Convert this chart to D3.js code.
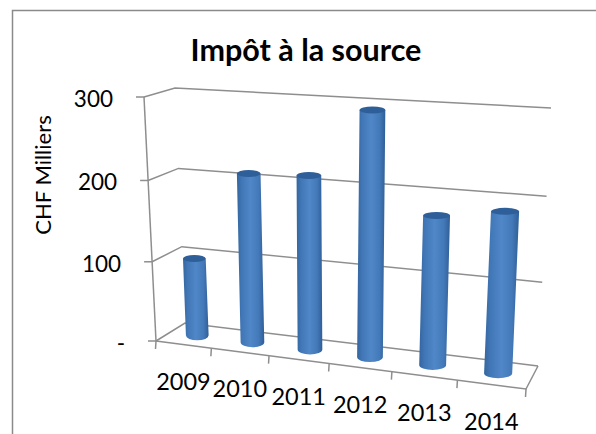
<!DOCTYPE html>
<html>
<head>
<meta charset="utf-8">
<script src="https://cdnjs.cloudflare.com/ajax/libs/d3/7.8.5/d3.min.js"></script>
<style>
  html, body { margin: 0; padding: 0; background: #fff; }
  text { font-family: Lato, "Open Sans", sans-serif; fill: #000; }
</style>
</head>
<body>
<div id="chart"></div>
<script>
const years = ['2009', '2010', '2011', '2012', '2013', '2014'];
const impot = [98, 209, 212, 293, 177, 188];
const valueTicks = [0, 100, 200, 300];
const valueLabels = ['-', '100', '200', '300'];

const width = 596, height = 434;

const svg = d3.select('#chart').append('svg')
    .attr('width', width)
    .attr('height', height);

// box corners in pixels, f = front, b = back, l = left, r = right, 0 = floor, 1 = top
const fl0 = [156, 341], fl1 = [144, 97];
const bl0 = [185, 323], bl1 = [175, 88];
const br0 = [538, 366], br1 = [551, 108];
const fr0 = [526, 389], fr1 = [540, 118];

const x = d3.scaleBand().domain(years).range([0, 1]);
const y = d3.scaleLinear().domain([0, 300]).range([0, 1]);

// foreshortening along the category and value directions
const warp = (t, w) => t / (t + w * (1 - t));
const lerp = (a, b, t) => [a[0] + (b[0] - a[0]) * t, a[1] + (b[1] - a[1]) * t];

// u along the categories, d into the depth (0 front, 1 back), value on the vertical
function project(u, d, value) {
    const uu = warp(u, 1.137);
    const vv = warp(y(value), 1.04);
    const front = lerp(lerp(fl0, fr0, uu), lerp(fl1, fr1, uu), vv);
    const back = lerp(lerp(bl0, br0, uu), lerp(bl1, br1, uu), vv);
    return lerp(front, back, d);
}

const line = d3.line();
const gridColor = '#8e8e8e';

// chart frame, open at the right and bottom like the clipped original
svg.append('path')
    .attr('d', line([[12.5, height], [12.5, 10.5], [width, 10.5]]))
    .attr('fill', 'none')
    .attr('stroke', '#8a8a8a')
    .attr('stroke-width', 1.5);

// gridlines on the side and back walls
svg.selectAll('.grid')
    .data(valueTicks)
    .enter()
    .append('path')
    .attr('class', 'grid')
    .attr('d', v => line([project(0, 0, v), project(0, 1, v), project(1, 1, v)]))
    .attr('fill', 'none')
    .attr('stroke', gridColor)
    .attr('stroke-width', 1.5);

// floor edges
svg.append('path')
    .attr('d', line([project(1, 1, 0), project(1, 0, 0), project(0, 0, 0)]))
    .attr('fill', 'none')
    .attr('stroke', gridColor)
    .attr('stroke-width', 1.5);

// value axis
svg.append('path')
    .attr('d', line([project(0, 0, 0), project(0, 0, 300)]))
    .attr('fill', 'none')
    .attr('stroke', gridColor)
    .attr('stroke-width', 1.5);

svg.selectAll('.ytick')
    .data(valueTicks)
    .enter()
    .append('path')
    .attr('class', 'ytick')
    .attr('d', v => {
        const p = project(0, 0, v);
        return line([p, [p[0] - 8, p[1]]]);
    })
    .attr('stroke', gridColor)
    .attr('stroke-width', 1.5);

svg.selectAll('.ylabel')
    .data(valueTicks)
    .enter()
    .append('text')
    .attr('class', 'ylabel')
    .attr('x', v => project(0, 0, v)[0] - 31)
    .attr('y', v => project(0, 0, v)[1] + 2)
    .attr('dy', '0.35em')
    .attr('text-anchor', 'end')
    .style('font-size', '22.5px')
    .text((v, i) => valueLabels[i]);

// category ticks
svg.selectAll('.xtick')
    .data(d3.range(years.length + 1))
    .enter()
    .append('path')
    .attr('class', 'xtick')
    .attr('d', i => {
        const p = project(i / years.length, 0, 0);
        return line([p, [p[0] - 0.5, p[1] + 8]]);
    })
    .attr('stroke', gridColor)
    .attr('stroke-width', 1.5);

svg.selectAll('.xlabel')
    .data(years)
    .enter()
    .append('text')
    .attr('class', 'xlabel')
    .attr('x', d => project(x(d) + x.bandwidth() / 2, 0, 0)[0])
    .attr('y', d => project(x(d) + x.bandwidth() / 2, 0, 0)[1] + 37)
    .attr('dy', '0.35em')
    .attr('text-anchor', 'middle')
    .style('font-size', '23.5px')
    .text(d => d);

// cylinder shading
const defs = svg.append('defs');
const grad = defs.append('linearGradient')
    .attr('id', 'cyl')
    .attr('x1', 0).attr('x2', 1).attr('y1', 0).attr('y2', 0);
grad.selectAll('stop')
    .data([[0, '#34669f'], [0.18, '#4177b6'], [0.5, '#5087c8'], [0.8, '#4379b8'], [1, '#2f5e96']])
    .enter()
    .append('stop')
    .attr('offset', d => d[0])
    .attr('stop-color', d => d[1]);

const bars = svg.selectAll('.bar')
    .data(years.map((year, i) => ({ year, value: impot[i] })))
    .enter()
    .append('g')
    .attr('class', 'bar');

const halfWidth = d => {
    const u = x(d.year) + x.bandwidth() / 2;
    return (project(u + 0.035, 0.5, 0)[0] - project(u - 0.035, 0.5, 0)[0]) / 2;
};

bars.append('path')
    .attr('d', d => {
        const u = x(d.year) + x.bandwidth() / 2;
        const b = project(u, 0.5, 0), t = project(u, 0.5, d.value);
        const r = halfWidth(d), ry = 5;
        return `M${t[0] - r},${t[1]} L${b[0] - r},${b[1]} A${r},${ry} 0 0 0 ${b[0] + r},${b[1]} L${t[0] + r},${t[1]} Z`;
    })
    .attr('fill', 'url(#cyl)');

bars.append('ellipse')
    .attr('cx', d => project(x(d.year) + x.bandwidth() / 2, 0.5, d.value)[0])
    .attr('cy', d => project(x(d.year) + x.bandwidth() / 2, 0.5, d.value)[1])
    .attr('rx', halfWidth)
    .attr('ry', 3.5)
    .attr('fill', '#2f5f99');

svg.append('text')
    .attr('x', 306)
    .attr('y', 61)
    .attr('text-anchor', 'middle')
    .style('font-size', '30.5px')
    .style('font-weight', 'bold')
    .text('Impôt à la source');

svg.append('text')
    .attr('transform', 'translate(51,175) rotate(-90)')
    .attr('text-anchor', 'middle')
    .style('font-size', '22px')
    .text('CHF Milliers');
</script>
</body>
</html>
